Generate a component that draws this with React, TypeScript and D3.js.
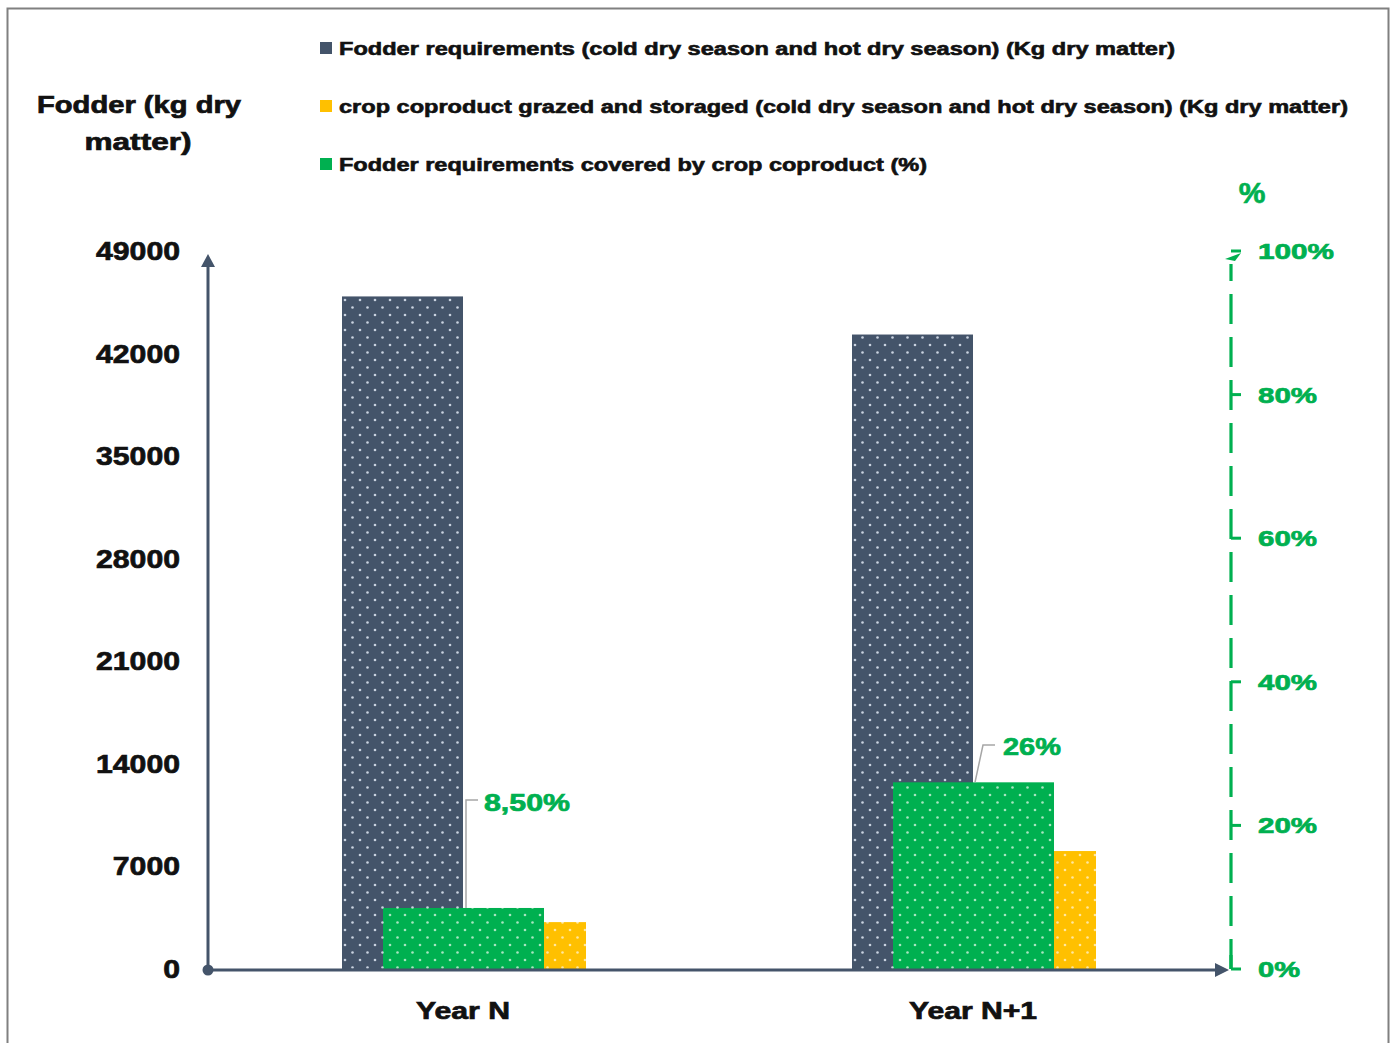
import React from "react";
import * as d3 from "d3";

const categories = ["Year N", "Year N+1"];
const fodderRequirements = [45900, 43300];
const coproductGrazed = [3200, 8050];
const coveredPct = [8.5, 26];
const coveredLabels = ["8,50%", "26%"];
const leftTicks = [0, 7000, 14000, 21000, 28000, 35000, 42000, 49000];
const rightTicks = [0, 20, 40, 60, 80, 100];
const legendItems = [
  { label: "Fodder requirements (cold dry season and hot dry season) (Kg dry matter)", color: "#44546A" },
  { label: "crop coproduct grazed and storaged (cold dry season and hot dry season) (Kg dry matter)", color: "#FFC000" },
  { label: "Fodder requirements covered by crop coproduct (%)", color: "#00B050" },
];

const NAVY = "#44546A";
const GREEN = "#00B050";
const YELLOW = "#FFC000";
const AXIS = "#44546A";
const FONT = "'Liberation Sans', Arial, sans-serif";

export default function App() {
  const W = 1395, H = 1043;
  const y0 = 969, yTop = 251;
  const yLeft = d3.scaleLinear().domain([0, 49000]).range([y0, yTop]);
  const yRight = d3.scaleLinear().domain([0, 100]).range([y0, yTop]);
  const x = d3.scaleBand().domain(categories).range([208, 1228]).paddingInner(0).paddingOuter(0);
  const bw = x.bandwidth();
  const center = (c: string) => (x(c) as number) + bw / 2;
  const navyOff = [-121 / 510, 0];
  const greenOff = [-80 / 510, 81 / 510];
  const yellowOff = [81 / 510, 123 / 510];

  const leftAxisX = 208;
  const rightAxisX = 1231;
  const legendWidths = [836, 1009, 588];
  const heavy = (c: string, w = 0.7) => ({ stroke: c, strokeWidth: w, paintOrder: "stroke" as const });

  return (
    <svg width={W} height={H} style={{ position: "absolute", left: 0, top: 0, background: "#fff" }} fontFamily={FONT}>
      <defs>
        {[
          { id: "dotNavy", bg: NAVY, dot: "#C9D2E0" },
          { id: "dotGreen", bg: GREEN, dot: "#A8E6C0" },
          { id: "dotYellow", bg: YELLOW, dot: "#FFE7A0" },
        ].map((p) => (
          <pattern key={p.id} id={p.id} width={15} height={15} patternUnits="userSpaceOnUse" x={342} y={297}>
            <rect width={15} height={15} fill={p.bg} />
            <circle cx={3} cy={3} r={1.3} fill={p.dot} />
            <circle cx={10.5} cy={10.5} r={1.3} fill={p.dot} />
          </pattern>
        ))}
      </defs>
      <rect x={0} y={0} width={W} height={H} fill="#fff" />
      <path d={`M7.5,${H + 5} V8.5 H1388.5 V${H + 5}`} fill="none" stroke="#808080" strokeWidth={2} />

      {/* Legend */}
      {legendItems.map((it, i) => {
        const cy = 48 + i * 58;
        return (
          <g key={i}>
            <rect x={320} y={cy - 6} width={12} height={12} fill={it.color} />
            <text x={339} y={cy + 7} fontSize={18} fontWeight={700} fill="#111" {...heavy("#111", 0.6)} textLength={legendWidths[i]} lengthAdjust="spacingAndGlyphs">
              {it.label}
            </text>
          </g>
        );
      })}

      {/* Left title */}
      <text x={139} y={113} fontSize={23} fontWeight={700} fill="#111" {...heavy("#111")} textAnchor="middle" textLength={204} lengthAdjust="spacingAndGlyphs">Fodder (kg dry</text>
      <text x={138} y={150} fontSize={23} fontWeight={700} fill="#111" {...heavy("#111")} textAnchor="middle" textLength={107} lengthAdjust="spacingAndGlyphs">matter)</text>

      {/* Right title */}
      <text x={1252} y={203} fontSize={30} fontWeight={700} fill={GREEN} {...heavy(GREEN)} textAnchor="middle">%</text>

      {/* Left tick labels */}
      {leftTicks.map((t) => {
        const s = String(t);
        return (
          <text key={t} x={180} y={yLeft(t) + 9} fontSize={26} fontWeight={700} fill="#111" {...heavy("#111")} textAnchor="end" textLength={s.length * 16.8} lengthAdjust="spacingAndGlyphs">
            {s}
          </text>
        );
      })}

      {/* Right tick labels */}
      {rightTicks.map((t) => {
        const s = `${t}%`;
        return (
          <text key={t} x={1258} y={yRight(t) + 8} fontSize={22} fontWeight={700} fill={GREEN} {...heavy(GREEN)} textLength={(s.length - 1) * 17 + 25} lengthAdjust="spacingAndGlyphs">
            {s}
          </text>
        );
      })}

      {/* Bars */}
      {categories.map((c, i) => {
        const cx = center(c);
        return (
          <g key={c}>
            <rect x={cx + navyOff[0] * bw} width={(navyOff[1] - navyOff[0]) * bw} y={yLeft(fodderRequirements[i])} height={y0 - yLeft(fodderRequirements[i])} fill="url(#dotNavy)" />
            <rect x={cx + greenOff[0] * bw} width={(greenOff[1] - greenOff[0]) * bw} y={yRight(coveredPct[i])} height={y0 - yRight(coveredPct[i])} fill="url(#dotGreen)" />
            <rect x={cx + yellowOff[0] * bw} width={(yellowOff[1] - yellowOff[0]) * bw} y={yLeft(coproductGrazed[i])} height={y0 - yLeft(coproductGrazed[i])} fill="url(#dotYellow)" />
          </g>
        );
      })}

      {/* Callouts */}
      {(() => {
        const c0 = center(categories[0]);
        const top0 = yRight(coveredPct[0]);
        const c1 = center(categories[1]);
        const top1 = yRight(coveredPct[1]);
        return (
          <g>
            <polyline points={`${c0 + 3},${top0} ${c0 + 3},${800} ${c0 + 15},${800}`} fill="none" stroke="#A6A6A6" strokeWidth={1.5} />
            <text x={484} y={811} fontSize={24} fontWeight={700} fill={GREEN} {...heavy(GREEN)} textLength={86} lengthAdjust="spacingAndGlyphs">{coveredLabels[0]}</text>
            <polyline points={`${c1 + 2},${top1} ${c1 + 10},${745} ${c1 + 22},${745}`} fill="none" stroke="#A6A6A6" strokeWidth={1.5} />
            <text x={1003} y={755} fontSize={24} fontWeight={700} fill={GREEN} {...heavy(GREEN)} textLength={58} lengthAdjust="spacingAndGlyphs">{coveredLabels[1]}</text>
          </g>
        );
      })()}

      {/* Left axis */}
      <line x1={leftAxisX} y1={y0} x2={leftAxisX} y2={264} stroke={AXIS} strokeWidth={3} />
      <path d={`M${leftAxisX},254 L${leftAxisX - 7},267 L${leftAxisX + 7},267 Z`} fill={AXIS} />
      {/* X axis */}
      <line x1={leftAxisX} y1={y0 + 1} x2={1218} y2={y0 + 1} stroke={AXIS} strokeWidth={3} />
      <path d={`M1229,${y0 + 1} L1215,${y0 - 6} L1215,${y0 + 8} Z`} fill={AXIS} />
      <circle cx={leftAxisX} cy={y0 + 1} r={5.5} fill={AXIS} />

      {/* Right axis */}
      <line x1={rightAxisX} y1={y0} x2={rightAxisX} y2={264} stroke={GREEN} strokeWidth={3.2} strokeDasharray="30,13" />
      <path d={`M${rightAxisX - 6},259 L${rightAxisX + 10},253 L${rightAxisX + 4},261 Z`} fill={GREEN} />
      {rightTicks.map((t) => (
        <line key={t} x1={rightAxisX} y1={yRight(t)} x2={rightAxisX + 10} y2={yRight(t)} stroke={GREEN} strokeWidth={3} />
      ))}
      <line x1={rightAxisX} y1={y0 - 14} x2={rightAxisX} y2={y0} stroke={GREEN} strokeWidth={3.2} />

      {/* X labels */}
      {categories.map((c, i) => (
        <text key={c} x={center(c)} y={1019} fontSize={23} fontWeight={700} fill="#111" {...heavy("#111")} textAnchor="middle" textLength={i === 0 ? 94 : 128} lengthAdjust="spacingAndGlyphs">
          {c}
        </text>
      ))}
    </svg>
  );
}
